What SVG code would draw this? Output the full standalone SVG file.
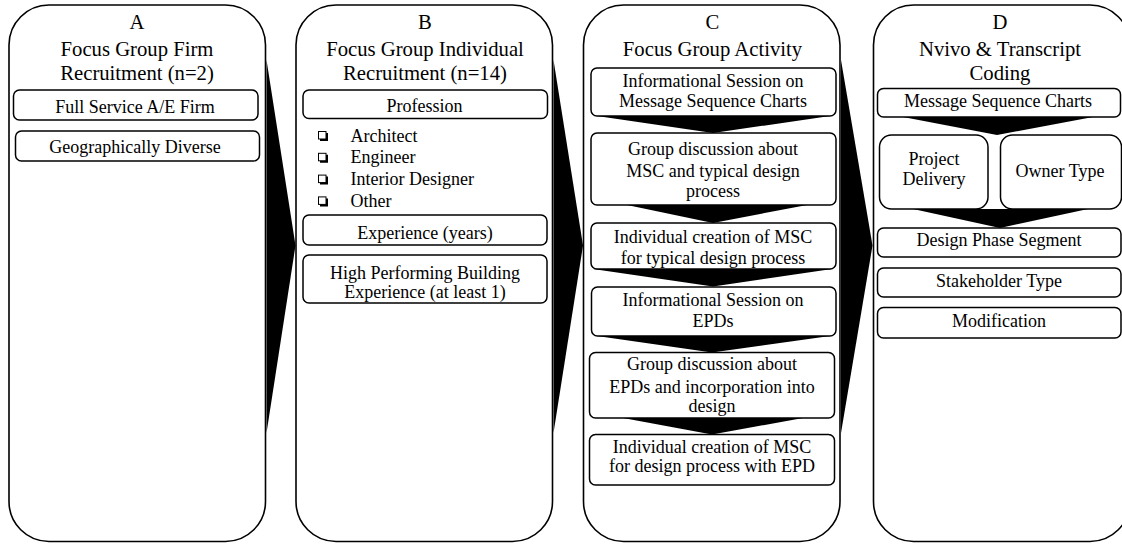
<svg xmlns="http://www.w3.org/2000/svg" width="1122" height="548" viewBox="0 0 1122 548">
<style>
.panel{fill:#fff;stroke:#000;stroke-width:1.6}
.box{fill:#fff;stroke:#000;stroke-width:1.5}
.t{font-family:"Liberation Serif","Times New Roman",serif;fill:#000;text-anchor:middle}
.title{font-size:20.7px}
.lbl{font-size:18px}
.li{font-family:"Liberation Serif","Times New Roman",serif;fill:#000;font-size:18px}
.cb{fill:#fff;stroke:#000;stroke-width:1}
.sh{fill:none;stroke:#000;stroke-width:2}
.arr{fill:#000;stroke:none}
</style>
<rect width="1122" height="548" fill="#fff"/>

<g id="panelA">
<rect class="panel" x="9" y="5" width="256.5" height="536.5" rx="40" ry="40"/>
<text class="t title" x="137" y="29">A</text>
<text class="t title" x="137" y="56">Focus Group Firm</text>
<text class="t title" x="137" y="80">Recruitment (n=2)</text>
</g>
<g id="a_firm">
<rect class="box" x="13.5" y="90" width="244.5" height="30" rx="6"/>
<text class="t lbl" x="135" y="112.5">Full Service A/E Firm</text>
</g>
<g id="a_geo">
<rect class="box" x="15.5" y="131" width="244" height="30" rx="6"/>
<text class="t lbl" x="135" y="153">Geographically Diverse</text>
</g>

<g id="panelB">
<rect class="panel" x="296" y="5" width="256.5" height="536.5" rx="40" ry="40"/>
<text class="t title" x="425" y="29">B</text>
<text class="t title" x="425" y="56">Focus Group Individual</text>
<text class="t title" x="425" y="80">Recruitment (n=14)</text>
</g>
<g id="b_prof">
<rect class="box" x="303" y="90" width="244.5" height="28.5" rx="6"/>
<text class="t lbl" x="424.5" y="112">Profession</text>
</g>
<g id="b_list">
<rect class="cb" x="318.5" y="131.5" width="7.5" height="7.5"/><polyline class="sh" points="320,140 327,140 327,133"/>
<rect class="cb" x="318.5" y="153.3" width="7.5" height="7.5"/><polyline class="sh" points="320,161.8 327,161.8 327,154.8"/>
<rect class="cb" x="318.5" y="175.1" width="7.5" height="7.5"/><polyline class="sh" points="320,183.6 327,183.6 327,176.6"/>
<rect class="cb" x="318.5" y="196.9" width="7.5" height="7.5"/><polyline class="sh" points="320,205.4 327,205.4 327,198.4"/>
<text class="li" x="350.5" y="141.5">Architect</text>
<text class="li" x="350.5" y="163.3">Engineer</text>
<text class="li" x="350.5" y="185.1">Interior Designer</text>
<text class="li" x="350.5" y="206.9">Other</text>
</g>
<g id="b_exp">
<rect class="box" x="303" y="215" width="244" height="30" rx="6"/>
<text class="t lbl" x="425" y="238.5">Experience (years)</text>
</g>
<g id="b_hpb">
<rect class="box" x="303" y="255" width="244" height="48" rx="6"/>
<text class="t lbl" x="425" y="278.5">High Performing Building</text>
<text class="t lbl" x="425" y="298">Experience (at least 1)</text>
</g>

<g id="panelC">
<rect class="panel" x="583.5" y="5" width="256.5" height="536.5" rx="40" ry="40"/>
<text class="t title" x="712.5" y="29">C</text>
<text class="t title" x="712.5" y="56">Focus Group Activity</text>
</g>
<g id="c1">
<rect class="box" x="591" y="68" width="245" height="48" rx="6"/>
<text class="t lbl" x="713" y="87.3">Informational Session on</text>
<text class="t lbl" x="713" y="107.3">Message Sequence Charts</text>
</g>
<g id="c2">
<rect class="box" x="591" y="133" width="245" height="72" rx="6"/>
<text class="t lbl" x="713" y="155">Group discussion about</text>
<text class="t lbl" x="713" y="176.5">MSC and typical design</text>
<text class="t lbl" x="713" y="197.3">process</text>
</g>
<g id="c3">
<rect class="box" x="591" y="223" width="245" height="46" rx="6"/>
<text class="t lbl" x="713" y="243">Individual creation of MSC</text>
<text class="t lbl" x="713" y="263.5">for typical design process</text>
</g>
<g id="c4">
<rect class="box" x="591.5" y="287" width="244.5" height="49" rx="6"/>
<text class="t lbl" x="713" y="306">Informational Session on</text>
<text class="t lbl" x="713" y="327.3">EPDs</text>
</g>
<g id="c5">
<rect class="box" x="589.5" y="352.5" width="245" height="65.5" rx="6"/>
<text class="t lbl" x="712" y="370">Group discussion about</text>
<text class="t lbl" x="712" y="392.5">EPDs and incorporation into</text>
<text class="t lbl" x="712" y="411.7">design</text>
</g>
<g id="c6">
<rect class="box" x="589.5" y="434.5" width="245" height="50.5" rx="6"/>
<text class="t lbl" x="712" y="452.7">Individual creation of MSC</text>
<text class="t lbl" x="712" y="471.7">for design process with EPD</text>
</g>

<g id="panelD">
<rect class="panel" x="873.5" y="5" width="256.5" height="536.5" rx="40" ry="40"/>
<text class="t title" x="1000" y="29">D</text>
<text class="t title" x="1000" y="56">Nvivo &amp; Transcript</text>
<text class="t title" x="1000" y="80">Coding</text>
</g>
<g id="d_msc">
<rect class="box" x="877.5" y="88.5" width="243" height="28.5" rx="6"/>
<text class="t lbl" x="998" y="106.5">Message Sequence Charts</text>
</g>
<g id="d_pd">
<rect class="box" x="879.5" y="135" width="108.5" height="74" rx="12"/>
<text class="t lbl" x="934" y="165">Project</text>
<text class="t lbl" x="934" y="185">Delivery</text>
</g>
<g id="d_owner">
<rect class="box" x="1000.5" y="135" width="121" height="74" rx="12"/>
<text class="t lbl" x="1060" y="177">Owner Type</text>
</g>
<g id="d_phase">
<rect class="box" x="877.5" y="228" width="243.5" height="29" rx="6"/>
<text class="t lbl" x="999" y="246">Design Phase Segment</text>
</g>
<g id="d_stake">
<rect class="box" x="877.5" y="268" width="243.5" height="29" rx="6"/>
<text class="t lbl" x="999" y="286.5">Stakeholder Type</text>
</g>
<g id="d_mod">
<rect class="box" x="877.5" y="307.5" width="243.5" height="30.5" rx="6"/>
<text class="t lbl" x="999" y="327">Modification</text>
</g>

<g id="connectors">
<polygon class="arr" points="266.5,60 295.5,245.5 266.5,433"/>
<polygon class="arr" points="553.5,60 583,245.5 553.5,433"/>
<polygon class="arr" points="841,60 872.5,245.5 841,433"/>
<polygon class="arr" points="597,116 830,116 713,133"/>
<polygon class="arr" points="627,205 807,205 713,223"/>
<polygon class="arr" points="593,269 832,269 713,286.5"/>
<polygon class="arr" points="597,336 830,336 712,352.5"/>
<polygon class="arr" points="623,418 803,418 712,434.5"/>
<polygon class="arr" points="903,117 1093,117 997,135"/>
<polygon class="arr" points="913,209 1088,209 1000,228"/>
</g>
</svg>
